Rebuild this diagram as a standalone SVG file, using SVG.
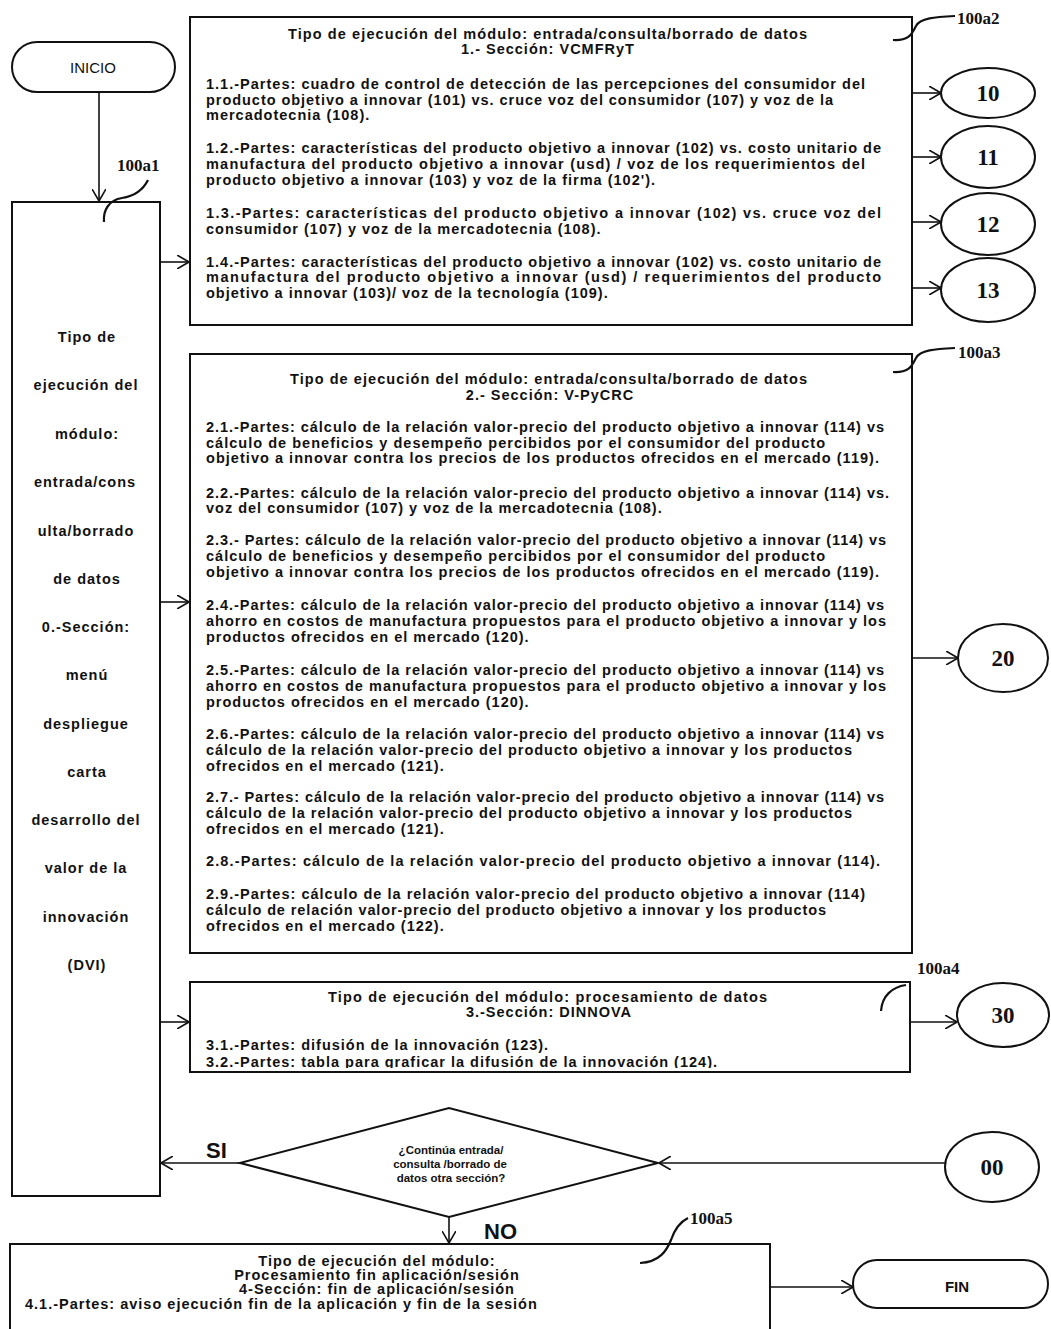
<svg xmlns="http://www.w3.org/2000/svg" width="1051" height="1329" viewBox="0 0 1051 1329" xml:space="preserve">
<style>
.bx{fill:#fff;stroke:#111;stroke-width:2}
.ln{fill:none;stroke:#111;stroke-width:1.6}
.ld{fill:none;stroke:#111;stroke-width:2.2}
.t{font-family:"Liberation Sans",Arial,sans-serif;font-weight:bold;font-size:14.5px;letter-spacing:1px;fill:#111}
.c{text-anchor:middle}
.ts{font-family:"Liberation Sans",Arial,sans-serif;font-weight:bold;font-size:11.5px;fill:#111;text-anchor:middle}
.n{font-family:"Liberation Serif","Times New Roman",serif;font-weight:bold;font-size:23px;fill:#111;text-anchor:middle}
.lb{font-family:"Liberation Serif","Times New Roman",serif;font-weight:bold;font-size:17px;fill:#111}
.big{font-family:"Liberation Sans",Arial,sans-serif;font-weight:bold;font-size:22px;fill:#111}
.term{font-family:"Liberation Sans",Arial,sans-serif;font-size:15px;fill:#111;text-anchor:middle}
</style>
<defs>
<marker id="ah" viewBox="0 0 12 14" refX="12" refY="7" markerWidth="12" markerHeight="14" markerUnits="userSpaceOnUse" orient="auto">
<path d="M0,0 L12,7 L0,14" fill="none" stroke="#111" stroke-width="1.6"/>
</marker>
<clipPath id="c3"><rect x="190" y="982" width="720" height="86"/></clipPath>
</defs>
<rect width="1051" height="1329" fill="#fff"/>

<g id="inicio">
<rect class="bx" x="12" y="42" width="163" height="50" rx="25"/>
<text class="term" x="93" y="73">INICIO</text>
</g>

<g id="menu0">
<rect class="bx" x="12" y="202" width="148" height="994"/>
<text class="t c" x="87" y="342">Tipo de</text>
<text class="t c" x="86" y="390">ejecución del</text>
<text class="t c" x="87" y="439">módulo:</text>
<text class="t c" x="85" y="487">entrada/cons</text>
<text class="t c" x="86" y="536">ulta/borrado</text>
<text class="t c" x="87" y="584">de  datos</text>
<text class="t c" x="86" y="632">0.-Sección:</text>
<text class="t c" x="87" y="680">menú</text>
<text class="t c" x="86" y="729">despliegue</text>
<text class="t c" x="87" y="777">carta</text>
<text class="t c" x="86" y="825">desarrollo del</text>
<text class="t c" x="86" y="873">valor de la</text>
<text class="t c" x="86" y="922">innovación</text>
<text class="t c" x="87" y="970">(DVI)</text>
<path class="ld" d="M104,222 C103,210 109,200 122,198 C135,196 143,190 148,180"/>
<text class="lb" x="117" y="171">100a1</text>
</g>

<g id="seccion1">
<rect class="bx" x="190" y="17" width="722" height="308"/>
<text class="t" x="288" y="39" textLength="520" lengthAdjust="spacing">Tipo de ejecución del módulo: entrada/consulta/borrado de  datos</text>
<text class="t c" x="548" y="54">1.- Sección: VCMFRyT</text>
<text class="t" x="206" y="89" textLength="660" lengthAdjust="spacing">1.1.-Partes: cuadro de control de detección de las percepciones del consumidor del</text>
<text class="t" x="206" y="105" textLength="628" lengthAdjust="spacing">producto objetivo a innovar (101) vs. cruce voz del consumidor (107) y voz de la</text>
<text class="t" x="206" y="120">mercadotecnia (108).</text>
<text class="t" x="206" y="153" textLength="676" lengthAdjust="spacing">1.2.-Partes: características del producto objetivo a innovar (102) vs. costo unitario  de</text>
<text class="t" x="206" y="169" textLength="660" lengthAdjust="spacing">manufactura del producto objetivo a innovar (usd) /  voz de los requerimientos del</text>
<text class="t" x="206" y="185">producto objetivo a innovar (103) y voz de la firma (102').</text>
<text class="t" x="206" y="218" textLength="676" lengthAdjust="spacing">1.3.-Partes:  características  del  producto  objetivo  a  innovar  (102)  vs.  cruce  voz  del</text>
<text class="t" x="206" y="234">consumidor (107) y voz de la mercadotecnia (108).</text>
<text class="t" x="206" y="267" textLength="676" lengthAdjust="spacing">1.4.-Partes: características del producto objetivo a innovar (102) vs. costo unitario  de</text>
<text class="t" x="206" y="282" textLength="676" lengthAdjust="spacing">manufactura  del  producto  objetivo  a  innovar  (usd) /   requerimientos  del  producto</text>
<text class="t" x="206" y="298">objetivo a innovar (103)/ voz de la tecnología (109).</text>
<path class="ld" d="M893,40 C910,41 912,33 916,26 C920,18 935,17 955,16"/>
<text class="lb" x="957" y="24">100a2</text>
</g>

<g id="n10"><ellipse class="bx" cx="988" cy="93" rx="47" ry="25"/><text class="n" x="988" y="101">10</text></g>
<g id="n11"><ellipse class="bx" cx="988" cy="157" rx="47" ry="31"/><text class="n" x="988" y="165">11</text></g>
<g id="n12"><ellipse class="bx" cx="988" cy="224" rx="47" ry="31"/><text class="n" x="988" y="232">12</text></g>
<g id="n13"><ellipse class="bx" cx="988" cy="290" rx="47" ry="32"/><text class="n" x="988" y="298">13</text></g>

<g id="seccion2">
<rect class="bx" x="190" y="354" width="722" height="599"/>
<text class="t" x="290" y="384" textLength="518" lengthAdjust="spacing">Tipo de ejecución del módulo: entrada/consulta/borrado de  datos</text>
<text class="t c" x="550" y="400">2.- Sección: V-PyCRC</text>
<text class="t" x="206" y="432" textLength="679" lengthAdjust="spacing">2.1.-Partes: cálculo de la relación valor-precio del producto objetivo a innovar (114) vs</text>
<text class="t" x="206" y="448" textLength="620" lengthAdjust="spacing">cálculo de beneficios y desempeño percibidos por el consumidor del producto</text>
<text class="t" x="206" y="463" textLength="674" lengthAdjust="spacing">objetivo a innovar  contra los precios de los productos ofrecidos en el mercado (119).</text>
<text class="t" x="206" y="498" textLength="684" lengthAdjust="spacing">2.2.-Partes: cálculo de la relación valor-precio del producto objetivo a innovar (114) vs.</text>
<text class="t" x="206" y="513">voz del consumidor (107) y voz de la mercadotecnia (108).</text>
<text class="t" x="206" y="545" textLength="681" lengthAdjust="spacing">2.3.- Partes: cálculo de la relación valor-precio del producto objetivo a innovar (114) vs</text>
<text class="t" x="206" y="561" textLength="620" lengthAdjust="spacing">cálculo de beneficios y desempeño percibidos por el consumidor del producto</text>
<text class="t" x="206" y="577" textLength="674" lengthAdjust="spacing">objetivo a innovar  contra los precios de los productos ofrecidos en el mercado (119).</text>
<text class="t" x="206" y="610" textLength="679" lengthAdjust="spacing">2.4.-Partes: cálculo de la relación valor-precio del producto objetivo a innovar (114) vs</text>
<text class="t" x="206" y="626" textLength="681" lengthAdjust="spacing">ahorro en costos de manufactura propuestos para el producto objetivo a innovar y los</text>
<text class="t" x="206" y="642">productos ofrecidos en el mercado (120).</text>
<text class="t" x="206" y="675" textLength="679" lengthAdjust="spacing">2.5.-Partes: cálculo de la relación valor-precio del producto objetivo a innovar (114) vs</text>
<text class="t" x="206" y="691" textLength="681" lengthAdjust="spacing">ahorro en costos de manufactura propuestos para el producto objetivo a innovar y los</text>
<text class="t" x="206" y="707">productos ofrecidos en el mercado (120).</text>
<text class="t" x="206" y="739" textLength="679" lengthAdjust="spacing">2.6.-Partes: cálculo de la relación valor-precio del producto objetivo a innovar (114) vs</text>
<text class="t" x="206" y="755" textLength="647" lengthAdjust="spacing">cálculo de la relación valor-precio del producto objetivo a innovar y los productos</text>
<text class="t" x="206" y="771">ofrecidos en el mercado (121).</text>
<text class="t" x="206" y="802" textLength="679" lengthAdjust="spacing">2.7.- Partes: cálculo de la relación valor-precio del producto objetivo a innovar (114) vs</text>
<text class="t" x="206" y="818" textLength="647" lengthAdjust="spacing">cálculo de la relación valor-precio del producto objetivo a innovar y los productos</text>
<text class="t" x="206" y="834">ofrecidos en el mercado (121).</text>
<text class="t" x="206" y="866" textLength="675" lengthAdjust="spacing">2.8.-Partes: cálculo de la relación valor-precio del producto objetivo a innovar (114).</text>
<text class="t" x="206" y="899" textLength="660" lengthAdjust="spacing">2.9.-Partes: cálculo de la relación valor-precio del producto objetivo a innovar (114)</text>
<text class="t" x="206" y="915" textLength="621" lengthAdjust="spacing">cálculo de relación valor-precio del producto objetivo a innovar y los productos</text>
<text class="t" x="206" y="931">ofrecidos en el mercado (122).</text>
<path class="ld" d="M893,372 C910,373 912,365 916,358 C920,350 935,349 955,348"/>
<text class="lb" x="958" y="358">100a3</text>
</g>

<g id="n20"><ellipse class="bx" cx="1003" cy="658" rx="45" ry="34"/><text class="n" x="1003" y="666">20</text></g>

<g id="seccion3">
<rect class="bx" x="190" y="982" width="720" height="90"/>
<g clip-path="url(#c3)">
<text class="t" x="328" y="1002" textLength="440" lengthAdjust="spacing">Tipo de ejecución del módulo: procesamiento de  datos</text>
<text class="t c" x="549" y="1017">3.-Sección: DINNOVA</text>
<text class="t" x="206" y="1050">3.1.-Partes: difusión de la innovación (123).</text>
<text class="t" x="206" y="1067">3.2.-Partes: tabla para graficar la difusión de la innovación (124).</text>
</g>
<rect x="190" y="982" width="720" height="90" fill="none" stroke="#111" stroke-width="2"/>
<path class="ld" d="M881,1011 C882,996 892,987 906,985"/>
<text class="lb" x="917" y="974">100a4</text>
</g>

<g id="n30"><ellipse class="bx" cx="1003" cy="1015" rx="46" ry="32"/><text class="n" x="1003" y="1023">30</text></g>

<g id="decision">
<polygon class="bx" points="240,1163 449,1108 658,1163 449,1217"/>
<text class="ts" x="451" y="1154">¿Continúa entrada/</text>
<text class="ts" x="450" y="1168">consulta /borrado de</text>
<text class="ts" x="451" y="1182">datos otra sección?</text>
</g>

<g id="n00"><ellipse class="bx" cx="992" cy="1167" rx="47" ry="35"/><text class="n" x="992" y="1175">00</text></g>

<g id="seccion4">
<path class="bx" d="M10,1329 V1244 H770 V1329"/>
<text class="t c" x="377" y="1266">Tipo de ejecución del módulo:</text>
<text class="t c" x="377" y="1280">Procesamiento fin aplicación/sesión</text>
<text class="t c" x="377" y="1294">4-Sección: fin de aplicación/sesión</text>
<text class="t" x="25" y="1309">4.1.-Partes: aviso ejecución  fin de la aplicación y  fin de la sesión</text>
<path class="ld" d="M640,1263 C660,1262 667,1250 671,1240 C675,1228 680,1222 688,1218"/>
<text class="lb" x="690" y="1224">100a5</text>
</g>

<g id="fin">
<rect class="bx" x="853" y="1260" width="195" height="48" rx="24"/>
<text class="term" x="957" y="1292" font-weight="bold">FIN</text>
</g>

<g id="connectors">
<line class="ln" x1="99" y1="92" x2="99" y2="201" marker-end="url(#ah)"/>
<line class="ln" x1="160" y1="262" x2="189" y2="262" marker-end="url(#ah)"/>
<line class="ln" x1="160" y1="602" x2="189" y2="602" marker-end="url(#ah)"/>
<line class="ln" x1="160" y1="1022" x2="189" y2="1022" marker-end="url(#ah)"/>
<line class="ln" x1="912" y1="93" x2="941" y2="93" marker-end="url(#ah)"/>
<line class="ln" x1="912" y1="157" x2="941" y2="157" marker-end="url(#ah)"/>
<line class="ln" x1="912" y1="222" x2="941" y2="222" marker-end="url(#ah)"/>
<line class="ln" x1="912" y1="288" x2="941" y2="288" marker-end="url(#ah)"/>
<line class="ln" x1="912" y1="658" x2="958" y2="658" marker-end="url(#ah)"/>
<line class="ln" x1="910" y1="1022" x2="957" y2="1022" marker-end="url(#ah)"/>
<line class="ln" x1="945" y1="1163" x2="659" y2="1163" marker-end="url(#ah)"/>
<line class="ln" x1="240" y1="1163" x2="161" y2="1163" marker-end="url(#ah)"/>
<line class="ln" x1="449" y1="1217" x2="449" y2="1243" marker-end="url(#ah)"/>
<line class="ln" x1="770" y1="1287" x2="853" y2="1287" marker-end="url(#ah)"/>
<text class="big" x="206" y="1158">SI</text>
<text class="big" x="484" y="1239">NO</text>
</g>
</svg>
